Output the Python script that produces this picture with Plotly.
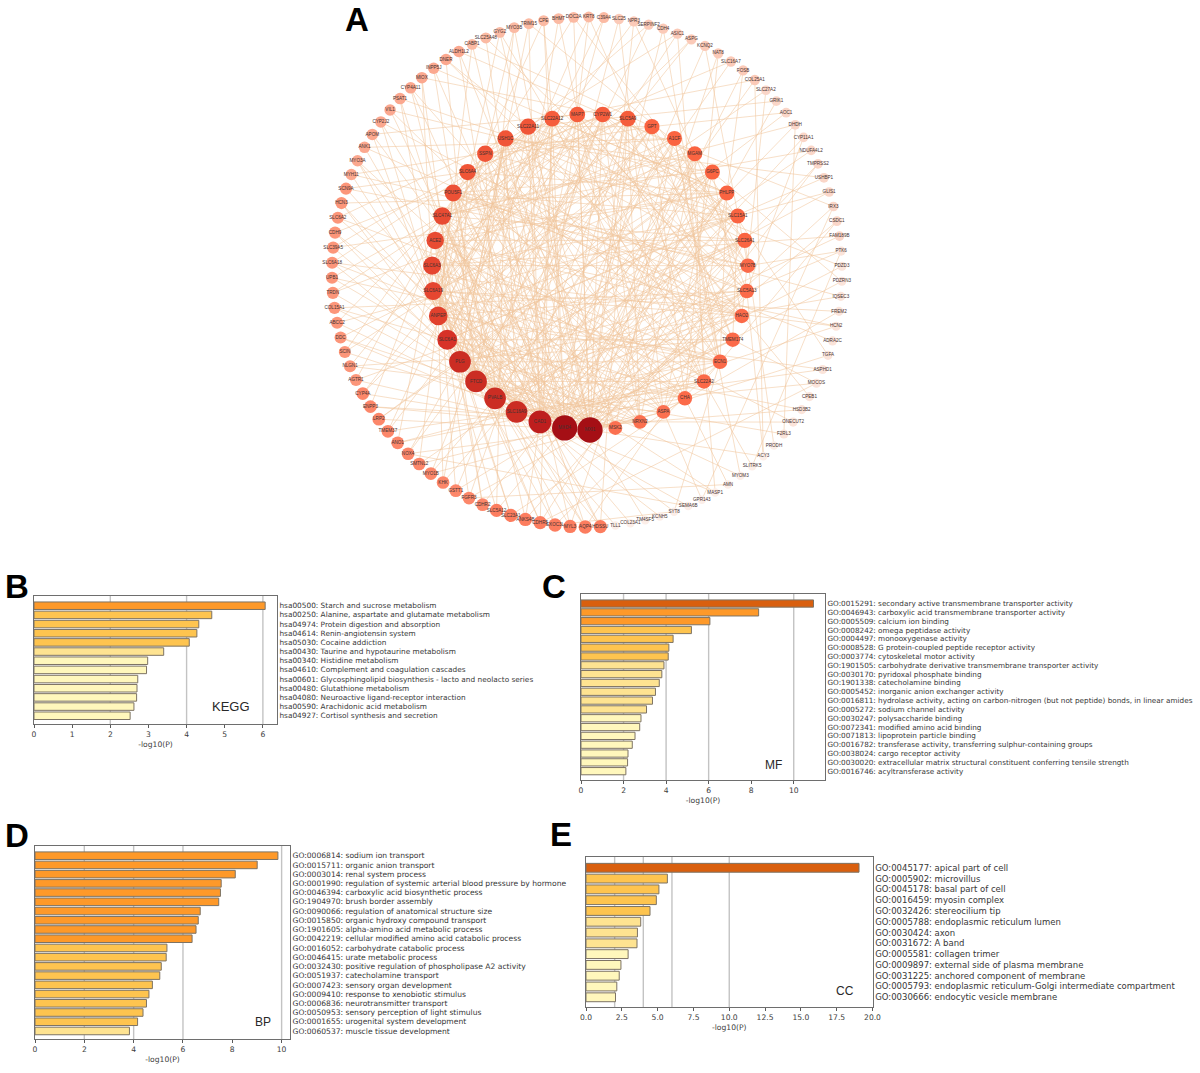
import numpy as np
import plotly.graph_objects as go

# ---------- Panel A: network nodes, listed clockwise from the bottom of each ring ----------
inner_names = ["MXI1", "MXD4", "CAD1", "SLC16A9", "PVALB", "FTCD", "PLG", "SLC6A1", "ANPEP", "SLC6A19",
               "SLC6A3", "ACE2", "SLC47A1", "POU5F1", "SLC6A4", "SSPN", "USH1C", "SLC22A11", "SLC22A12", "MAP7",
               "CYP2W1", "SLC5A9", "GPT", "A1CF", "MGAM", "G6PC", "PHLPP", "SLC15A1", "SLC26A1", "MYO7B",
               "SLC5A13", "HAO2", "TMEM174", "ECN1", "SLC22A2", "CHA", "ASPA", "NRXN2", "MSK2"]
inner_degree = [33, 33, 29, 27, 27, 27, 27, 24, 22, 21,
                21, 20, 20, 19, 18, 18, 18, 18, 17, 17,
                17, 17, 16, 16, 16, 16, 16, 16, 16, 15,
                15, 15, 15, 15, 15, 15, 14, 14, 14]
outer_names = ["HDSSU", "AQP4", "MYL3", "EXOC3L", "CDHR5", "ANKS4B", "SLC23A1", "SLC5A12", "CDHR2", "FGFR3",
               "GSTT1", "KHK", "MYO1B", "SMTNL2", "NOX4", "ANO1", "TMEM37", "LRP2", "ENPP3", "CYP4A",
               "AGTR1", "NLGN1", "SCIN", "DDC", "ABCC2", "COL15A1", "TRDN", "UPB1", "SLC6A18", "SLC39A5",
               "CDH9", "SLC6A2", "HCN3", "SCN9A", "MYH11", "MYO3A", "ANK1", "APOM", "CYP2J2", "VIL1",
               "PSAT1", "CYP4A11", "MIOX", "INPP5J", "DNER", "ALDH1L2", "CABP1", "SLC25A48", "GYG2", "MYO3B",
               "TRIM15", "CPE", "BHMT", "DOC2A", "KRT8", "C39A4", "SLC25", "NPR3", "SERPINF2", "CDH4",
               "ASIC1", "ASPG", "KCNQ2", "NAT8", "SLC16A7", "FOSB", "COL25A1", "SLC27A2", "GRIK1", "AOC1",
               "DHDH", "CYP11A1", "NDUFA4L2", "TMPRSS2", "USHBP1", "GLIS1", "IRX3", "CSDC1", "FAM189B", "PTK6",
               "PDZD3", "PDZRN3", "IQSEC3", "FREM2", "HCN2", "ADRA2C", "TGFA", "ASPHD1", "MOCOS", "CPEB1",
               "HSD3B2", "ONECUT2", "F2RL3", "PRODH", "ACY3", "SLITRK5", "MYOM3", "AMN", "MASP1", "GPR143",
               "SEMA6B", "SYT8", "KCNH5", "TM4SF5", "COL23A1", "TLL1"]
outer_degree = [13, 13, 13, 13, 13, 13, 13, 13, 12, 12,
                12, 12, 12, 12, 12, 12, 12, 12, 12, 12,
                11, 11, 11, 11, 11, 11, 11, 11, 11, 11,
                11, 11, 11, 11, 10, 10, 10, 10, 10, 10,
                10, 10, 10, 10, 10, 10, 9, 9, 9, 9,
                9, 9, 9, 9, 9, 9, 8, 8, 8, 8,
                8, 8, 8, 8, 8, 8, 8, 7, 7, 7,
                7, 7, 7, 7, 7, 7, 7, 7, 7, 6,
                6, 6, 6, 6, 6, 6, 6, 6, 6, 6,
                6, 6, 6, 5, 5, 5, 5, 5, 5, 5,
                5, 5, 5, 5, 5, 5]

# Links cannot be traced one by one in the picture: these are hand estimates of the web's look.
outer_links = [
    [21, 7, 12, 2], [30, 14, 3, 8], [24, 9, 15], [12, 33, 5], [18, 5, 27, 10], [29, 2, 13], [10, 35, 6], [16, 1, 9], [26, 6, 11], [20, 0, 7],
    [31, 11, 4], [8, 25, 16], [36, 4, 19], [13, 28, 1], [22, 0, 6], [34, 10, 3], [17, 3, 21], [25, 6, 0], [11, 37, 2], [19, 2, 8],
    [28, 1, 14], [5, 32, 10], [15, 0, 23], [38, 9, 3], [27, 4, 17], [7, 30, 1], [24, 1, 20], [12, 0, 33], [3, 35, 18], [18, 2, 26],
    [21, 8, 4], [33, 0, 16], [6, 26, 2], [14, 1, 29], [29, 4, 22], [10, 37, 5], [23, 3, 31], [0, 19, 7], [31, 7, 1], [16, 2, 35],
    [4, 27, 9], [35, 1, 12], [9, 20, 6], [26, 0, 13], [17, 5, 32], [38, 3, 24], [22, 1, 8], [2, 30], [8, 34, 0], [15, 0, 5],
    [25, 6, 2], [1, 18, 10], [37, 4], [11, 0, 28], [32, 2, 7], [19, 7], [3, 36], [24, 0, 9], [13, 5], [33, 1],
    [6, 15], [9, 21], [2, 29], [35, 0], [14, 4], [26, 1], [18, 3], [8, 31], [0, 17], [22, 6],
    [3, 12], [30, 2], [12, 5], [1, 38], [7, 16], [5, 27], [20, 0], [0, 34], [10, 4], [4, 29],
    [16, 2], [1, 25], [6, 13], [9, 36], [2, 11], [13], [0, 24], [8, 3], [32, 3], [19],
    [1, 7], [11, 37], [5], [28], [30, 0], [34], [7, 23], [35], [2, 38], [36],
    [4], [1, 33], [6], [0], [9], [3],
]
inner_links = [
    [2, 5, 9, 12, 14, 16, 17, 19, 21, 23, 25, 27, 30, 33, 36, 6, 10, 13, 20, 28],
    [3, 6, 8, 11, 13, 15, 18, 20, 22, 24, 26, 29, 31, 34, 37, 5, 9, 16, 25, 32],
    [4, 7, 10, 14, 18, 21, 24, 28, 32, 35, 12, 17, 26, 30],
    [6, 9, 12, 16, 19, 23, 27, 30, 38, 11, 21, 26, 34],
    [8, 11, 15, 20, 25, 29, 33, 36, 13, 18, 23, 31],
    [9, 13, 17, 22, 26, 31, 34, 11, 20, 28, 37],
    [10, 14, 19, 24, 28, 35, 38, 16, 22, 30, 33],
    [12, 16, 21, 27, 32, 37, 18, 25, 35],
    [13, 18, 23, 30, 36, 15, 27, 33, 38],
    [15, 20, 25, 33, 37, 18, 24, 31],
    [17, 22, 29, 34, 20, 27, 36],
    [19, 26, 31, 38, 23, 28, 35],
    [18, 24, 28, 35, 21, 31, 37],
    [21, 27, 33, 25, 30, 36],
    [20, 30, 36, 26, 32, 38],
    [23, 32, 37, 27, 34],
    [25, 29, 34, 31, 36],
    [22, 28, 38, 26, 33],
    [26, 35, 30, 33],
    [31, 36, 27, 34],
    [27, 33, 29, 37],
    [30, 37, 28, 34],
    [32, 35, 29],
    [29, 38, 33],
    [34, 30, 37],
    [31, 36],
    [33, 35],
    [32],
    [36],
]
outer_outer_links = [(98, 60), (92, 70), (88, 4), (84, 28), (101, 3), (97, 9), (100, 14), (79, 95), (76, 99), (66, 94)]

# ---------- Panels B-E: enrichment bars ----------
kegg_terms = ["hsa00500: Starch and sucrose metabolism", "hsa00250: Alanine, aspartate and glutamate metabolism",
              "hsa04974: Protein digestion and absorption", "hsa04614: Renin-angiotensin system",
              "hsa05030: Cocaine addiction", "hsa00430: Taurine and hypotaurine metabolism",
              "hsa00340: Histidine metabolism", "hsa04610: Complement and coagulation cascades",
              "hsa00601: Glycosphingolipid biosynthesis - lacto and neolacto series", "hsa00480: Glutathione metabolism",
              "hsa04080: Neuroactive ligand-receptor interaction", "hsa00590: Arachidonic acid metabolism",
              "hsa04927: Cortisol synthesis and secretion"]
kegg_values = [6.06, 4.66, 4.32, 4.27, 4.07, 3.40, 2.98, 2.95, 2.72, 2.70, 2.69, 2.62, 2.52]

mf_terms = ["GO:0015291: secondary active transmembrane transporter activity",
            "GO:0046943: carboxylic acid transmembrane transporter activity", "GO:0005509: calcium ion binding",
            "GO:0008242: omega peptidase activity", "GO:0004497: monooxygenase activity",
            "GO:0008528: G protein-coupled peptide receptor activity", "GO:0003774: cytoskeletal motor activity",
            "GO:1901505: carbohydrate derivative transmembrane transporter activity",
            "GO:0030170: pyridoxal phosphate binding", "GO:1901338: catecholamine binding",
            "GO:0005452: inorganic anion exchanger activity",
            "GO:0016811: hydrolase activity, acting on carbon-nitrogen (but not peptide) bonds, in linear amides",
            "GO:0005272: sodium channel activity", "GO:0030247: polysaccharide binding",
            "GO:0072341: modified amino acid binding", "GO:0071813: lipoprotein particle binding",
            "GO:0016782: transferase activity, transferring sulphur-containing groups",
            "GO:0038024: cargo receptor activity",
            "GO:0030020: extracellular matrix structural constituent conferring tensile strength",
            "GO:0016746: acyltransferase activity"]
mf_values = [10.93, 8.35, 6.06, 5.19, 4.33, 4.13, 4.10, 3.90, 3.80, 3.68,
             3.50, 3.36, 3.08, 2.82, 2.76, 2.54, 2.41, 2.21, 2.19, 2.11]

bp_terms = ["GO:0006814: sodium ion transport", "GO:0015711: organic anion transport", "GO:0003014: renal system process",
            "GO:0001990: regulation of systemic arterial blood pressure by hormone",
            "GO:0046394: carboxylic acid biosynthetic process", "GO:1904970: brush border assembly",
            "GO:0090066: regulation of anatomical structure size", "GO:0015850: organic hydroxy compound transport",
            "GO:1901605: alpha-amino acid metabolic process", "GO:0042219: cellular modified amino acid catabolic process",
            "GO:0016052: carbohydrate catabolic process", "GO:0046415: urate metabolic process",
            "GO:0032430: positive regulation of phospholipase A2 activity", "GO:0051937: catecholamine transport",
            "GO:0007423: sensory organ development", "GO:0009410: response to xenobiotic stimulus",
            "GO:0006836: neurotransmitter transport", "GO:0050953: sensory perception of light stimulus",
            "GO:0001655: urogenital system development", "GO:0060537: muscle tissue development"]
bp_values = [9.85, 9.01, 8.12, 7.55, 7.52, 7.45, 6.70, 6.62, 6.53, 6.37,
             5.35, 5.32, 5.12, 5.06, 4.76, 4.62, 4.52, 4.38, 4.16, 3.83]

cc_terms = ["GO:0045177: apical part of cell", "GO:0005902: microvillus", "GO:0045178: basal part of cell",
            "GO:0016459: myosin complex", "GO:0032426: stereocilium tip", "GO:0005788: endoplasmic reticulum lumen",
            "GO:0030424: axon", "GO:0031672: A band", "GO:0005581: collagen trimer",
            "GO:0009897: external side of plasma membrane", "GO:0031225: anchored component of membrane",
            "GO:0005793: endoplasmic reticulum-Golgi intermediate compartment", "GO:0030666: endocytic vesicle membrane"]
cc_values = [19.06, 5.68, 5.09, 4.91, 4.47, 3.82, 3.59, 3.56, 2.94, 2.44, 2.32, 2.15, 2.06]

significance_grid = [2, 4, 6, 10]

# ---------- Styles and layout ----------
W, H = 1200, 1073
FONT = "DejaVu Sans"
EDGE = "rgba(240,198,155,0.62)"
NODE_SCALE = [(5, "rgb(252,238,232)"), (6, "rgb(251,228,218)"), (7, "rgb(250,214,200)"), (8, "rgb(251,202,184)"),
              (9, "rgb(251,186,163)"), (10, "rgb(251,168,143)"), (11, "rgb(252,150,122)"), (12, "rgb(252,135,106)"),
              (13, "rgb(252,125,95)"), (14, "rgb(251,112,80)"), (16, "rgb(250,100,65)"), (18, "rgb(240,85,55)"),
              (20, "rgb(232,75,50)"), (22, "rgb(225,65,45)"), (24, "rgb(215,50,40)"), (27, "rgb(203,45,35)"),
              (29, "rgb(190,30,30)"), (33, "rgb(165,15,21)")]
node_colorscale = [[(d - 5) / 28, c] for d, c in NODE_SCALE]
BAR_SCALE = [[0, "#FFF7BC"], [0.15, "#FFF7BC"], [0.15, "#FEE391"], [0.2, "#FEE391"], [0.2, "#FEC44F"],
             [0.3, "#FEC44F"], [0.3, "#FE9929"], [0.5, "#FE9929"], [0.5, "#D95F0E"], [1, "#D95F0E"]]


def ring(n, cx, cy, r, start_deg):
    a = np.radians(start_deg + np.arange(n) * 360.0 / n)
    return cx + r * np.cos(a), cy + r * np.sin(a)


ox, oy = ring(len(outer_names), 587, 272, 255, 87)
ix, iy = ring(len(inner_names), 590, 272, 158, 90)


def segs(pairs):
    xs, ys = [], []
    for (x0, y0), (x1, y1) in pairs:
        xs += [x0, x1, None]
        ys += [y0, y1, None]
    return xs, ys


groups = [
    [((ox[o], oy[o]), (ix[j], iy[j])) for o, links in enumerate(outer_links) for j in links],
    [((ix[i], iy[i]), (ix[j], iy[j])) for i, links in enumerate(inner_links) for j in links],
    [((ox[a], oy[a]), (ox[b], oy[b])) for a, b in outer_outer_links],
]

fig = go.Figure()
for g in groups:
    xs, ys = segs(g)
    fig.add_trace(go.Scatter(x=xs, y=ys, mode="lines", line=dict(color=EDGE, width=0.9), hoverinfo="skip",
                             showlegend=False, xaxis="x", yaxis="y"))

for nx, ny, names, deg in [(ox, oy, outer_names, outer_degree), (ix, iy, inner_names, inner_degree)]:
    d = np.array(deg, float)
    fig.add_trace(go.Scatter(
        x=nx, y=ny, mode="markers+text", text=names, textposition="middle center",
        textfont=dict(family="Liberation Sans", size=4.6, color="rgb(70,50,50)"),
        marker=dict(size=5.5 + 0.6 * d, color=d, cmin=5, cmax=33, colorscale=node_colorscale,
                    opacity=1, line=dict(width=0)),
        showlegend=False, xaxis="x", yaxis="y", cliponaxis=False))

layout = dict(
    width=W, height=H, margin=dict(l=0, r=0, t=0, b=0, autoexpand=False), paper_bgcolor="white",
    plot_bgcolor="rgba(0,0,0,0)", showlegend=False, bargap=0.15,
    xaxis=dict(domain=[0, 1], range=[0, W], visible=False, fixedrange=True),
    yaxis=dict(domain=[0, 1], range=[H, 0], visible=False, fixedrange=True),
)
shapes, annotations = [], []

panels = [
    # terms, values, left, right, top, bottom, x max, ticks, tick format, y pad top, y pad bottom, font, tag, tag x, tag y
    (kegg_terms, kegg_values, 34, 277, 596, 724, 6.37, [0, 1, 2, 3, 4, 5, 6], "d", 1.06, 0.9, 7.35, "KEGG", 231, 706, 13),
    (mf_terms, mf_values, 581, 825, 594, 780, 11.47, [0, 2, 4, 6, 8, 10], "d", 1.08, 1.0, 7.25, "MF", 773, 765, 12),
    (bp_terms, bp_values, 35, 290, 846, 1039, 10.34, [0, 2, 4, 6, 8, 10], "d", 1.05, 0.87, 7.58, "BP", 263, 1022, 12),
    (cc_terms, cc_values, 586, 872.5, 857, 1007, 20, [0, 2.5, 5, 7.5, 10, 12.5, 15, 17.5, 20], ".1f", 1.0, 0.9, 8.5, "CC", 845, 991, 12),
]
for k, (terms, vals, l, r, t, b, xmax, ticks, fmt, pt, pb, fs, tag, tx, ty, tfs) in enumerate(panels, start=2):
    xa, ya = f"x{k}", f"y{k}"
    fig.add_trace(go.Bar(
        x=vals, y=terms, orientation="h", xaxis=xa, yaxis=ya, showlegend=False, width=0.82,
        marker=dict(color=vals, cmin=0, cmax=20, colorscale=BAR_SCALE, line=dict(color="rgb(125,115,100)", width=1))))
    layout[f"xaxis{k}"] = dict(
        domain=[l / W, r / W], range=[0, xmax], anchor=ya, tickvals=ticks, tickformat=fmt, ticks="outside", ticklen=3,
        tickwidth=1, tickcolor="rgb(90,90,90)", tickfont=dict(family=FONT, size=7.6, color="rgb(60,60,60)"),
        showgrid=False, zeroline=False, mirror=True, showline=True, linecolor="rgb(110,110,110)", linewidth=1,
        title=dict(text="-log10(P)", standoff=3, font=dict(family=FONT, size=7.6, color="rgb(60,60,60)")))
    layout[f"yaxis{k}"] = dict(
        domain=[1 - b / H, 1 - t / H], type="category", range=[len(terms) - 1 + pb, -pt], anchor=xa, side="right",
        tickmode="linear", dtick=1, ticks="", showgrid=False, zeroline=False, mirror=True, showline=True,
        linecolor="rgb(110,110,110)", linewidth=1, tickfont=dict(family=FONT, size=fs, color="rgb(55,55,55)"))
    for g in significance_grid:
        if g <= xmax:
            shapes.append(dict(type="line", layer="below", xref=xa, yref=f"{ya} domain", x0=g, x1=g, y0=0, y1=1,
                               line=dict(color="rgb(195,195,195)", width=1.4)))
    annotations.append(dict(xref="paper", yref="paper", x=tx / W, y=1 - ty / H, text=tag, showarrow=False,
                            xanchor="center", yanchor="middle",
                            font=dict(family="Liberation Sans", size=tfs, color="rgb(40,40,40)")))

for letter, px, py in [("A", 357, 19), ("B", 17, 586), ("C", 554, 586), ("D", 17, 835), ("E", 561, 834)]:
    annotations.append(dict(xref="paper", yref="paper", x=px / W, y=1 - py / H, text=f"<b>{letter}</b>", showarrow=False,
                            xanchor="center", yanchor="middle",
                            font=dict(family="Liberation Sans", size=33, color="black")))

fig.update_layout(**layout, shapes=shapes, annotations=annotations)
fig.write_html("out.html", config=dict(displayModeBar=False),
               post_script="document.body.style.margin='0';document.body.style.overflow='hidden';")
